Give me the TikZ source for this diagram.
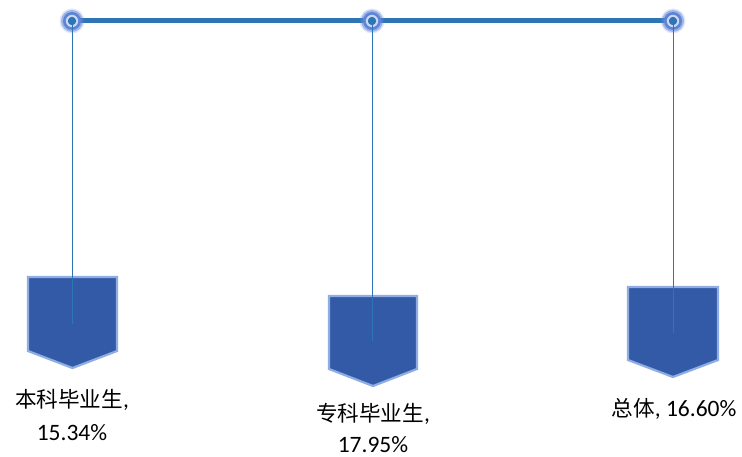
\documentclass[tikz,border=0pt]{standalone}
\usepackage{fontspec}
\setmainfont{Carlito}
\newfontfamily\cjk[Scale=0.92]{Noto Sans CJK SC}
\definecolor{barblue}{HTML}{2E75B6}
\definecolor{boxfill}{HTML}{325AA6}
\definecolor{boxedge}{HTML}{8FADE2}
\definecolor{glow}{HTML}{5E84D8}
\definecolor{glowin}{HTML}{C9D7F3}
\tikzset{
  pin/.style={circle,inner sep=0pt,minimum size=8pt,fill=barblue},
  hang/.style={draw=barblue,line width=0.8pt},
  tag/.style={fill=boxfill,draw=boxedge,line width=2.2pt,line join=miter},
  lbl/.style={font=\fontsize{23.5}{32}\selectfont,text=black,inner sep=0pt,anchor=base}
}
\newcommand{\glowat}[1]{%
  \fill[glow,opacity=0.2] (#1) circle (12.5);
  \fill[glow,opacity=0.5] (#1) circle (11);
  \fill[glow] (#1) circle (9);
  \fill[glowin] (#1) circle (6.2);
}
\begin{document}
\begin{tikzpicture}[x=1pt,y=-1pt]
\useasboundingbox (0,0) rectangle (742,457);
% top bar
\draw[barblue,line width=5pt] (72,21) -- (673,21);
\glowat{72,21}
\glowat{372,21}
\glowat{673,21}
\node[pin] (p1) at (72,21) {};
\node[pin] (p2) at (372,21) {};
\node[pin] (p3) at (673,21) {};
% tags
\draw[tag] (28,277) -- (117,277) -- (117,351) -- (72.5,368) -- (28,351) -- cycle;
\draw[tag] (329,296) -- (417,296) -- (417,369) -- (373,386) -- (329,369) -- cycle;
\draw[tag] (628,287) -- (718,287) -- (718,360) -- (673,377) -- (628,360) -- cycle;
\coordinate (e1) at (72,324);
\coordinate (e2) at (372,341);
\coordinate (e3) at (673,333);
\draw[hang] (p1.center) -- (e1);
\draw[hang] (p2.center) -- (e2);
\draw[hang] (p3.center) -- (e3);
\node[pin] at (p1) {};
\node[pin] at (p2) {};
\node[pin] at (p3) {};
% labels
\node[lbl] (l1a) at (72,407) {{\cjk 本科毕业生},};
\node[lbl] (l1b) at (72,440) {15.34\%};
\node[lbl] (l2a) at (373,421) {{\cjk 专科毕业生},};
\node[lbl] (l2b) at (373,452) {17.95\%};
\node[lbl] (l3) at (674,416) {{\cjk 总体}, 16.60\%};
\end{tikzpicture}
\end{document}
